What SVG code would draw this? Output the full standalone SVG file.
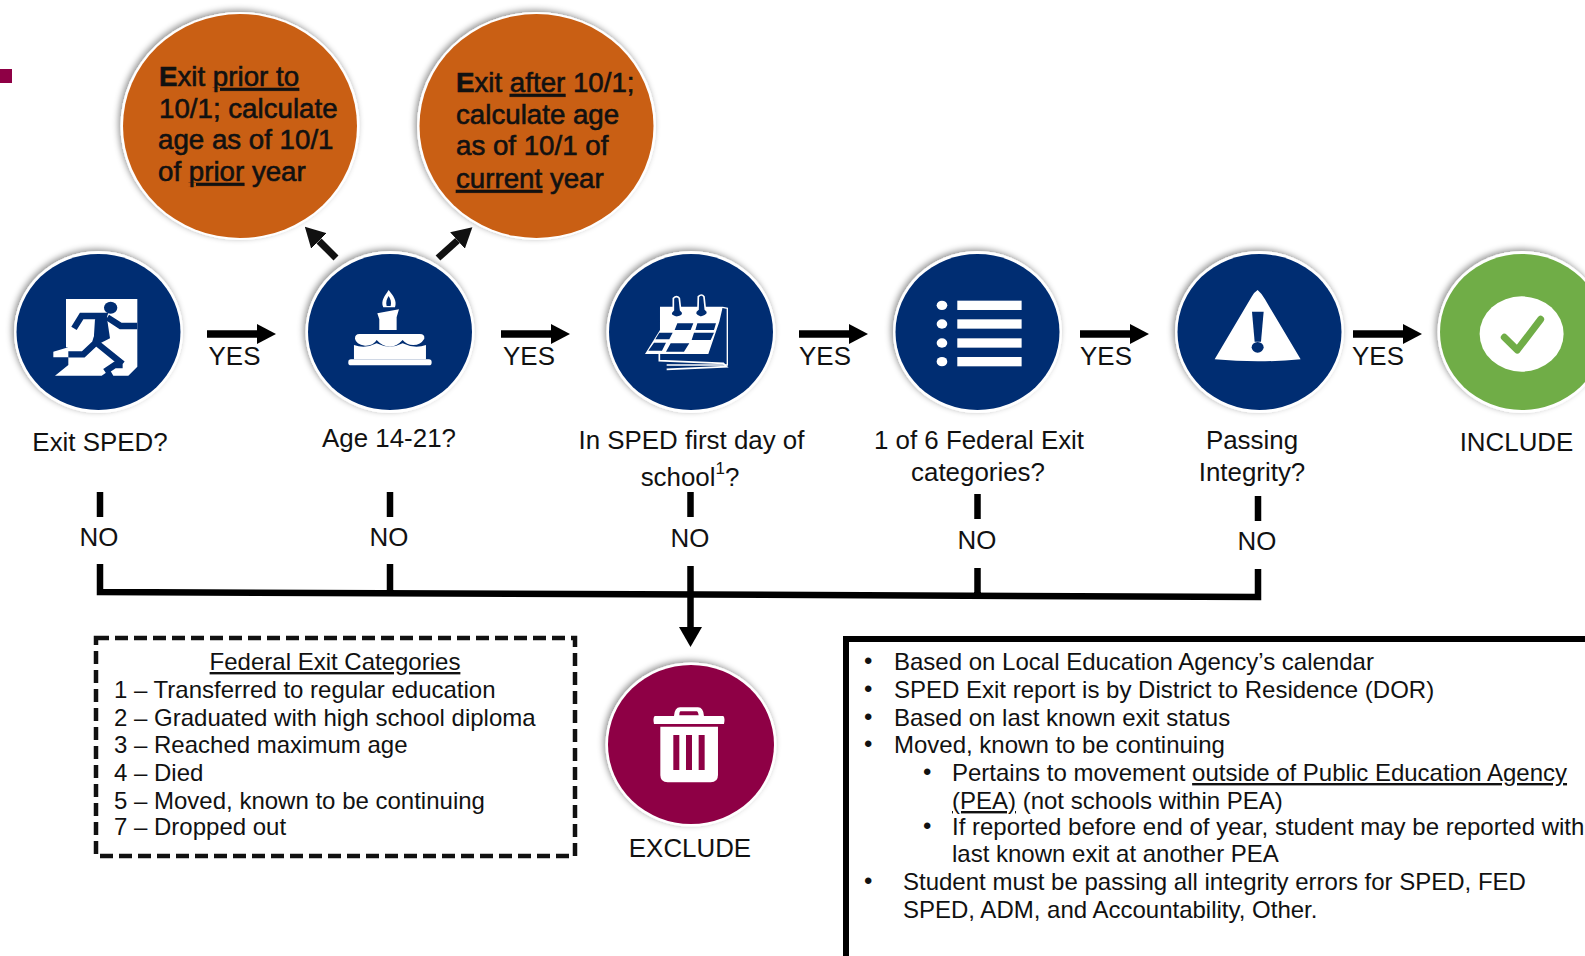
<svg xmlns="http://www.w3.org/2000/svg" width="1585" height="956" viewBox="0 0 1585 956">
<defs>
<filter id="sh" x="-15%" y="-15%" width="130%" height="130%"><feDropShadow dx="-2" dy="-2" stdDeviation="3" flood-color="#000" flood-opacity=".42"/></filter>
<marker id="ah" markerUnits="userSpaceOnUse" markerWidth="19" markerHeight="20" refX="0" refY="10" orient="auto"><path d="M0 0L19 10L0 20z" fill="#000"/></marker>
<marker id="ad" markerUnits="userSpaceOnUse" markerWidth="20" markerHeight="22" refX="0" refY="11" orient="auto"><path d="M0 0L20 11L0 22z" fill="#111"/></marker>
<style>
text{font-family:"Liberation Sans",Arial,sans-serif;fill:#111;font-size:25.9px}
.c{text-anchor:middle}
.l{font-size:24px}
.o{font-size:27.7px;stroke:#111;stroke-width:.6px}
.u{text-decoration:underline}
.ring{fill:#fff;filter:url(#sh)}
.navy{fill:#002d72}
.wire{fill:none;stroke:#000;stroke-width:6.500}
.arr{fill:none;stroke:#000;stroke-width:7.500;marker-end:url(#ah)}
</style>
</defs>
<rect width="1585" height="956" fill="#fff"/>
<rect x="0" y="69" width="12" height="14" fill="#8e0045"/>

<g id="node-prior">
<ellipse class="ring" cx="240" cy="126" rx="119.500" ry="114"/>
<ellipse cx="240" cy="126" rx="117" ry="112" fill="#c95f14"/>
<text class="o" x="159" y="86"><tspan font-weight="bold">E</tspan>xit <tspan class="u">prior to</tspan></text>
<text class="o" x="159" y="118">10/1; calculate</text>
<text class="o" x="158" y="149">age as of 10/1</text>
<text class="o" x="158" y="181">of <tspan class="u">prior</tspan> year</text>
</g>
<g id="node-after">
<ellipse class="ring" cx="536.500" cy="126" rx="119.500" ry="114"/>
<ellipse cx="536.500" cy="126" rx="117" ry="112" fill="#c95f14"/>
<text class="o" x="456" y="92"><tspan font-weight="bold">E</tspan>xit <tspan class="u">after</tspan> 10/1;</text>
<text class="o" x="456" y="124">calculate age</text>
<text class="o" x="456" y="155">as of 10/1 of</text>
<text class="o" x="456" y="188"><tspan class="u">current</tspan> year</text>
</g>

<g id="node-exit">
<ellipse class="ring" cx="98.500" cy="332" rx="84.500" ry="81"/>
<ellipse class="navy" cx="98.500" cy="332" rx="82" ry="78"/>
<g transform="translate(0 230) scale(.3333)">
<path d="M198 207H412V410L385 437H340L330 420L305 437H165L205 405V382H160V365L205 352H198z" fill="#fff"/>
<ellipse cx="332" cy="233" rx="20" ry="18" fill="#002d72"/>
<path d="M222 295L245 258H312L285 340M322 262L362 288H412M285 335L368 402M368 405H345L315 425M285 340L250 373H205" fill="none" stroke="#002d72" stroke-width="19"/>
<path d="M285 268L320 258L330 325L280 350z" fill="#002d72"/>
</g>
<text class="c" x="100" y="451">Exit SPED?</text>
</g>

<g id="node-age">
<ellipse class="ring" cx="390" cy="332" rx="84.500" ry="81"/>
<ellipse class="navy" cx="390" cy="332" rx="82" ry="78"/>
<g transform="translate(0 230) scale(.3333)" fill="#fff">
<path d="M1166 180C1180 198 1192 212 1185 232L1150 232C1141 212 1155 198 1166 180z"/>
<path d="M1166 198C1172 208 1175 216 1172 228H1160C1157 216 1160 208 1166 198z" fill="#002d72"/>
<path d="M1132 250L1197 238L1190 262V300H1138V268z"/>
<path d="M1078 312H1260Q1275 312 1273 326Q1262 345 1240 345Q1220 345 1208 330Q1190 350 1170 350Q1148 350 1130 330Q1120 348 1095 347Q1068 342 1065 326Q1065 312 1078 312z"/>
<path d="M1062 345Q1095 358 1130 340Q1170 360 1208 340Q1245 358 1278 345V388H1062z"/>
<rect x="1045" y="388" width="250" height="18" rx="8"/>
</g>
<text class="c" x="389" y="447">Age 14-21?</text>
</g>

<g id="node-first-day">
<ellipse class="ring" cx="691" cy="332" rx="84.500" ry="81"/>
<ellipse class="navy" cx="691" cy="332" rx="82" ry="78"/>
<g transform="translate(580 230) scale(.3333)">
<path d="M240 232H428L442 235V405H260" fill="none" stroke="#fff" stroke-width="4"/>
<path d="M238 370V392L430 400L440 410L260 418" fill="none" stroke="#fff" stroke-width="5"/>
<path d="M240 232H428L418 275L385 372H195L240 300z" fill="#fff"/>
<path d="M292 280H340L332 300H284zM352 280H408L402 300H346zM238 308H278L268 328H226zM342 308H402L392 330H335zM222 338H258L246 362H205zM272 340H328L312 365H258z" fill="#002d72"/>
<path d="M280 205Q290 195 298 205L302 240Q320 255 290 262Q262 255 280 240z" fill="#002d72" stroke="#fff" stroke-width="5"/>
<path d="M355 200Q365 190 372 200L376 238Q395 252 362 262Q335 252 354 238z" fill="#002d72" stroke="#fff" stroke-width="5"/>
</g>
<text class="c" x="691.500" y="449">In SPED first day of</text>
<text class="c" x="690" y="486">school<tspan dy="-12" font-size="17">1</tspan><tspan dy="12">?</tspan></text>
</g>

<g id="node-categories">
<ellipse class="ring" cx="977.500" cy="332" rx="84.500" ry="81"/>
<ellipse class="navy" cx="977.500" cy="332" rx="82" ry="78"/>
<g transform="translate(580 230) scale(.3333)" fill="#fff">
<ellipse cx="1086" cy="226" rx="16" ry="14"/><rect x="1132" y="212" width="193" height="28"/>
<ellipse cx="1086" cy="282" rx="16" ry="14"/><rect x="1132" y="268" width="193" height="28"/>
<ellipse cx="1086" cy="339" rx="16" ry="14"/><rect x="1132" y="325" width="193" height="28"/>
<ellipse cx="1086" cy="395" rx="16" ry="14"/><rect x="1132" y="381" width="193" height="28"/>
</g>
<text class="c" x="979" y="449">1 of 6 Federal Exit</text>
<text class="c" x="978" y="481">categories?</text>
</g>

<g id="node-integrity">
<ellipse class="ring" cx="1259.500" cy="332" rx="84.500" ry="81"/>
<ellipse class="navy" cx="1259.500" cy="332" rx="82" ry="78"/>
<g transform="translate(1120 230) scale(.3333)">
<path d="M413 180Q425 190 435 208L542 388Q415 400 284 388L395 200Q403 186 413 180z" fill="#fff"/>
<path d="M396 245H431L423 335H404z" fill="#002d72"/>
<ellipse cx="413" cy="352" rx="18" ry="16" fill="#002d72"/>
</g>
<text class="c" x="1252" y="449">Passing</text>
<text class="c" x="1252" y="481">Integrity?</text>
</g>

<g id="node-include">
<ellipse class="ring" cx="1522" cy="332" rx="84.500" ry="81"/>
<ellipse cx="1522" cy="332" rx="82" ry="78" fill="#70ad47"/>
<g transform="translate(1120 230) scale(.3333)">
<ellipse cx="1205" cy="312" rx="126" ry="113" fill="#fff"/>
<path d="M1153 322L1192 360L1262 268" fill="none" stroke="#70ad47" stroke-width="21" stroke-linejoin="round" stroke-linecap="round"/>
</g>
<text class="c" x="1516.500" y="451">INCLUDE</text>
</g>

<g id="node-exclude">
<ellipse class="ring" cx="691" cy="744.500" rx="85.500" ry="82"/>
<ellipse cx="691" cy="744.500" rx="83" ry="79.500" fill="#8e0045"/>
<g transform="translate(580 640) scale(.3333)">
<path d="M282 228Q284 202 300 202H354Q370 202 372 228H430Q436 235 432 252H222Q218 235 224 228zM298 226H356Q354 214 350 214H302Q298 214 298 226z" fill="#fff" fill-rule="evenodd"/>
<path d="M241 260H414V405Q414 427 392 427H263Q241 427 241 405z" fill="#fff"/>
<path d="M280 285H298V390H280zM318 285H336V390H318zM356 285H374V390H356z" fill="#8e0045"/>
</g>
<text class="c" x="690" y="857">EXCLUDE</text>
</g>

<g id="connectors">
<path class="arr" d="M207 334H257"/>
<path class="arr" d="M501 334H551"/>
<path class="arr" d="M799 334H849"/>
<path class="arr" d="M1080 334H1130"/>
<path class="arr" d="M1353 334H1403"/>
<path d="M336 258L319 241" fill="none" stroke="#111" stroke-width="7" marker-end="url(#ad)"/>
<path d="M438 258L457.500 240.500" fill="none" stroke="#111" stroke-width="7" marker-end="url(#ad)"/>
<path class="wire" d="M100 492V517M390 492V517M690.500 492V517M977.500 494V519M1258 496V521"/>
<path class="wire" d="M100 564V592L1258 597V569M390 564V592M977.500 568V596"/>
<path class="wire" d="M690.500 566V628"/>
<path d="M679 627H702L690.500 647z" fill="#000"/>
</g>
<g id="labels">
<text class="c" x="234.500" y="365">YES</text>
<text class="c" x="529" y="365">YES</text>
<text class="c" x="825" y="365">YES</text>
<text class="c" x="1106" y="365">YES</text>
<text class="c" x="1378" y="365">YES</text>
<text class="c" x="99" y="546">NO</text>
<text class="c" x="389" y="546">NO</text>
<text class="c" x="690" y="547">NO</text>
<text class="c" x="977" y="549">NO</text>
<text class="c" x="1257" y="550">NO</text>
</g>

<g id="federal-exit-categories">
<rect x="96" y="638" width="479" height="218" fill="none" stroke="#111" stroke-width="4.500" stroke-dasharray="13 6"/>
<text class="l u c" x="335" y="670">Federal Exit Categories</text>
<text class="l" x="114" y="698">1 – Transferred to regular education</text>
<text class="l" x="114" y="726">2 – Graduated with high school diploma</text>
<text class="l" x="114" y="753">3 – Reached maximum age</text>
<text class="l" x="114" y="781">4 – Died</text>
<text class="l" x="114" y="809">5 – Moved, known to be continuing</text>
<text class="l" x="114" y="835">7 – Dropped out</text>
</g>

<g id="notes">
<path d="M846 956V639H1585" fill="none" stroke="#000" stroke-width="6"/>
<text class="l" x="864" y="669">•</text><text class="l" x="894" y="670">Based on Local Education Agency’s calendar</text>
<text class="l" x="864" y="697">•</text><text class="l" x="894" y="698">SPED Exit report is by District to Residence (DOR)</text>
<text class="l" x="864" y="725">•</text><text class="l" x="894" y="726">Based on last known exit status</text>
<text class="l" x="864" y="752">•</text><text class="l" x="894" y="753">Moved, known to be continuing</text>
<text class="l" x="923" y="780">•</text><text class="l" x="952" y="781">Pertains to movement <tspan class="u">outside of Public Education Agency</tspan></text>
<text class="l" x="952" y="809"><tspan class="u">(PEA)</tspan> (not schools within PEA)</text>
<text class="l" x="923" y="834">•</text><text class="l" x="952" y="835">If reported before end of year, student may be reported with</text>
<text class="l" x="952" y="862">last known exit at another PEA</text>
<text class="l" x="864" y="889">•</text><text class="l" x="903" y="890">Student must be passing all integrity errors for SPED, FED</text>
<text class="l" x="903" y="918">SPED, ADM, and Accountability, Other.</text>
</g>
</svg>
